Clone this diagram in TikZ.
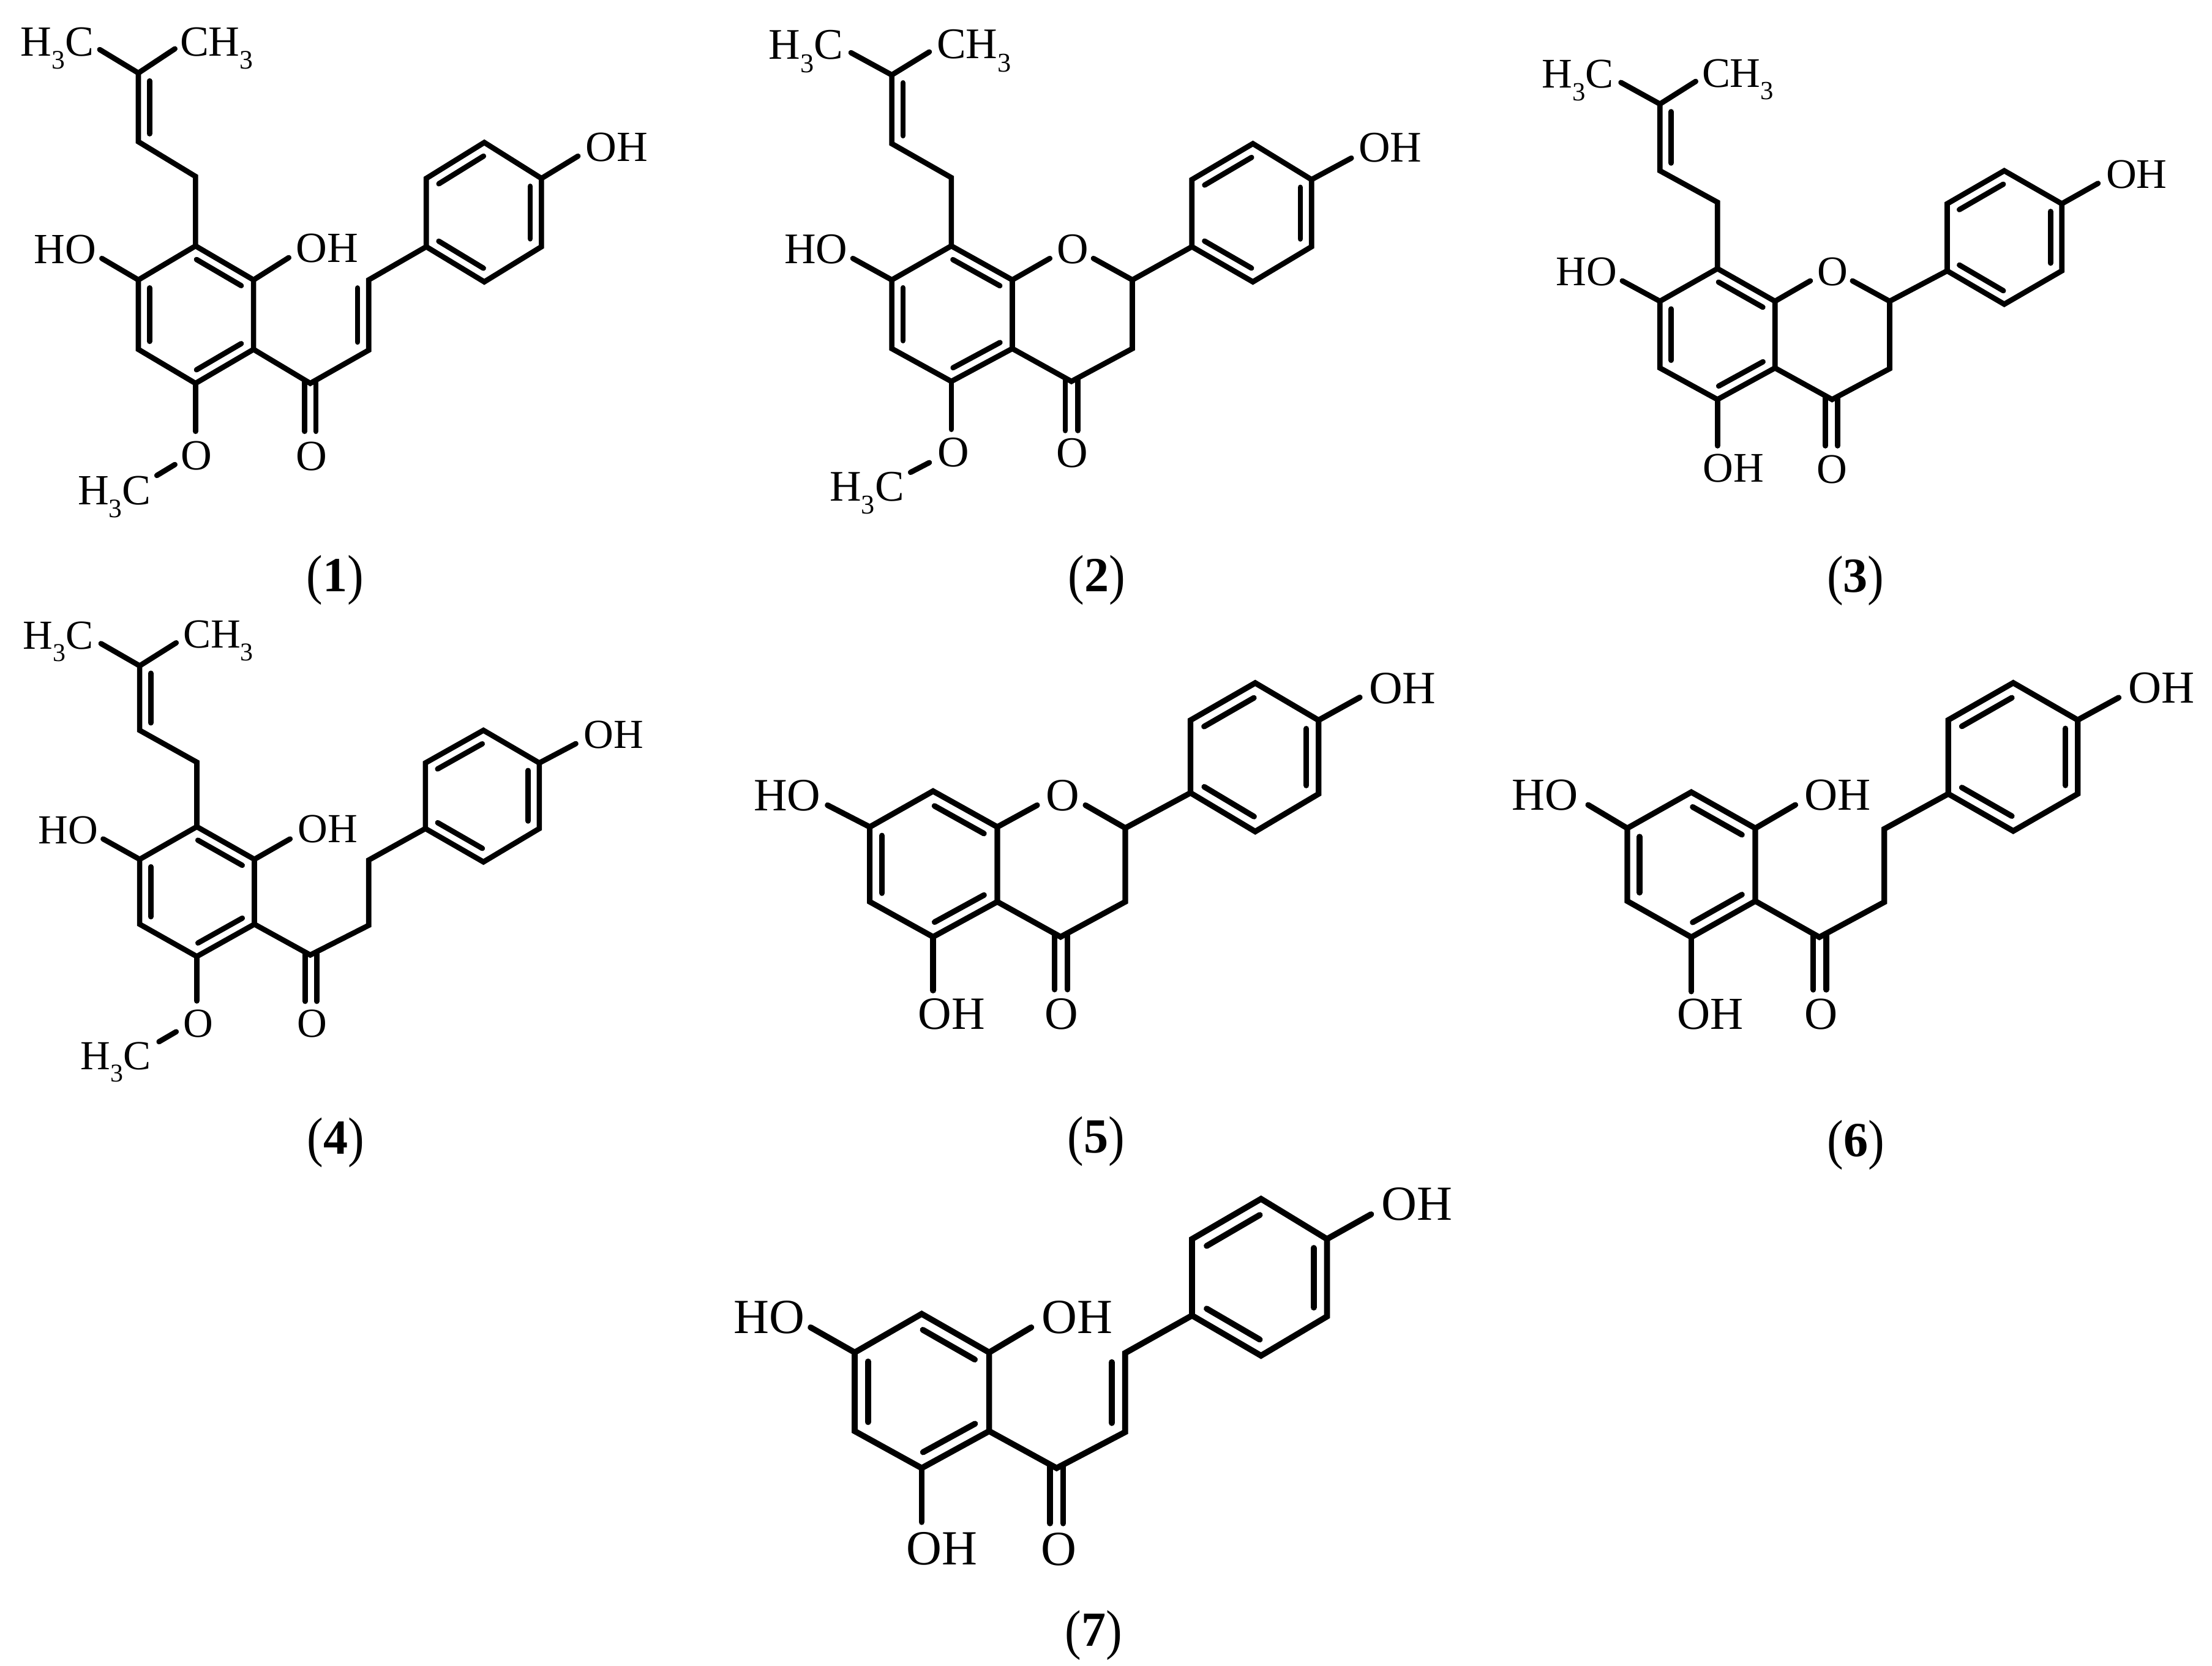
\documentclass[tikz,border=0pt]{standalone}
\usepackage{graphicx}
\usepackage{fontspec}
\setmainfont{Liberation Serif}
\usetikzlibrary{calc}
\tikzset{
  bond/.style={draw=black,line width=\bondw,line cap=round,line join=miter,miter limit=10},
  innerbond/.style={draw=black,line width=\bondw,line cap=round},
  lbl/.style={anchor=base west,inner sep=0pt,text=black},
  captxt/.style={anchor=base,inner sep=0pt,text=black,font=\fontsize{22.8}{26}\selectfont},
}
\def\bondw{0.087cm}\def\inoff{0.183cm}
\newcommand\tri{\raisebox{-0.3em}{\scalebox{0.62}{3}}}
\newcommand\cpt[1]{\raisebox{-.04em}{\scalebox{1}[1.12]{(}}\textbf{#1}\raisebox{-.04em}{\scalebox{1}[1.12]{)}}}
\newcommand\hexa[7]{\coordinate (#11) at #2;\coordinate (#12) at #3;\coordinate (#13) at #4;\coordinate (#14) at #5;\coordinate (#15) at #6;\coordinate (#16) at #7;}
\newcommand\inb[2]{\draw[innerbond] ($(#1)!.115!(#2)!\inoff!-90:(#2)$) -- ($(#2)!.115!(#1)!\inoff!90:(#1)$);}
\newcommand\rings{%
  \draw[bond] (a1)--(a2)--(a3)--(a4)--(a5)--(a6)--cycle;
  \draw[bond] (b1)--(b2)--(b3)--(b4)--(b5)--(b6)--cycle;
  \inb{a1}{a2}\inb{a3}{a4}\inb{a5}{a6}
  \inb{b2}{b1}\inb{b4}{b3}\inb{b6}{b5}
  \draw[bond] (b4)--(ohb);
  \draw[bond] (a6)--(hoa);
}
\newcommand\prenyl{%
  \draw[bond] (pl)--(p2)--(pr);
  \draw[bond] (p2)--(p3)--(p4)--(a1);
  \inb{p3}{p2}
}
\begin{document}
\begin{tikzpicture}
\useasboundingbox[fill=white] (0,0) rectangle (36.13,-27.22);

% ---------- (1)
\begin{scope}[x=0.007015cm,y=-0.006378cm,name prefix=m1-,font=\fontsize{20}{24}\selectfont]
\hexa{a}{(455,630)}{(590,717)}{(590,895)}{(455,982)}{(322,895)}{(322,717)}
\hexa{b}{(992,632)}{(1127,722)}{(1260,632)}{(1260,457)}{(1127,365)}{(992,457)}
\coordinate (p2) at (322,187);\coordinate (pl) at (232,127);\coordinate (pr) at (407,125);
\coordinate (p3) at (322,363);\coordinate (p4) at (455,452);
\coordinate (co) at (722,982);\coordinate (ca) at (858,897);\coordinate (cb) at (858,717);
\coordinate (ohb) at (1345,400);\coordinate (hoa) at (237,662);\coordinate (oha) at (672,660);
\coordinate (oe) at (455,1105);\coordinate (m1) at (407,1190);\coordinate (m2) at (365,1218);
\coordinate (c1) at (709,975);\coordinate (c2) at (735,975);\coordinate (o1) at (709,1105);\coordinate (o2) at (735,1105);
\rings\prenyl
\draw[bond] (a3)--(co)--(ca)--(cb)--(b1);
\inb{cb}{ca}
\draw[bond] (a2)--(oha); \draw[bond] (a4)--(oe); \draw[bond] (m1)--(m2);
\draw[bond] (c1)--(o1); \draw[bond] (c2)--(o2);
\node[lbl] (t1) at (47,143) {H\tri C};
\node[lbl] (t2) at (418,143) {CH\tri};
\node[lbl] (t3) at (78,675) {HO};
\node[lbl] (t4) at (688,672) {OH};
\node[lbl] (t5) at (1362,413) {OH};
\node[lbl] (t6) at (420,1203) {O};
\node[lbl] (t7) at (180,1293) {H\tri C};
\node[lbl] (t8) at (688,1205) {O};
\node[captxt] (capn) at (780,1515) {\cpt{1}};
\end{scope}

% ---------- (2)
\begin{scope}[shift={(12cm,0cm)},x=0.007653cm,y=-0.006378cm,name prefix=m2-,font=\fontsize{20.3}{24}\selectfont]
\hexa{a}{(462,630)}{(592,717)}{(592,893)}{(462,977)}{(335,893)}{(335,717)}
\hexa{b}{(975,632)}{(1105,722)}{(1230,632)}{(1230,460)}{(1105,368)}{(975,460)}
\coordinate (p2) at (335,192);\coordinate (pl) at (248,135);\coordinate (pr) at (415,133);
\coordinate (p3) at (335,368);\coordinate (p4) at (462,455);
\coordinate (co) at (718,977);\coordinate (c3) at (848,893);\coordinate (c4) at (848,717);
\coordinate (ohb) at (1315,405);\coordinate (hoa) at (252,662);
\coordinate (ol) at (672,662);\coordinate (or) at (765,662);
\coordinate (oe) at (462,1100);\coordinate (m1) at (415,1185);\coordinate (m2) at (375,1210);
\coordinate (c1) at (705,970);\coordinate (c2) at (732,970);\coordinate (o1) at (705,1103);\coordinate (o2) at (732,1103);
\rings\prenyl
\draw[bond] (a3)--(co)--(c3)--(c4)--(b1);
\draw[bond] (a2)--(ol); \draw[bond] (or)--(c4);
\draw[bond] (a4)--(oe); \draw[bond] (m1)--(m2);
\draw[bond] (c1)--(o1); \draw[bond] (c2)--(o2);
\node[lbl] (t1) at (72,152) {H\tri C};
\node[lbl] (t2) at (430,150) {CH\tri};
\node[lbl] (t3) at (105,675) {HO};
\node[lbl] (t4) at (687,675) {O};
\node[lbl] (t5) at (1330,415) {OH};
\node[lbl] (t6) at (432,1195) {O};
\node[lbl] (t7) at (202,1283) {H\tri C};
\node[lbl] (t8) at (685,1197) {O};
\node[captxt] (capn) at (772,1515) {\cpt{2}};
\end{scope}

% ---------- (3)
\begin{scope}[shift={(24.5cm,-0.5cm)},x=0.007398cm,y=-0.006059cm,name prefix=m3-,font=\fontsize{19.6}{24}\selectfont]
\hexa{a}{(480,642)}{(607,730)}{(607,910)}{(480,995)}{(353,910)}{(353,730)}
\hexa{b}{(987,648)}{(1113,738)}{(1240,648)}{(1240,467)}{(1113,378)}{(987,467)}
\coordinate (p2) at (353,198);\coordinate (pl) at (267,140);\coordinate (pr) at (432,137);
\coordinate (p3) at (353,378);\coordinate (p4) at (480,463);
\coordinate (co) at (733,995);\coordinate (c3) at (860,912);\coordinate (c4) at (860,730);
\coordinate (ohb) at (1320,412);\coordinate (hoa) at (270,675);
\coordinate (ol) at (685,675);\coordinate (or) at (778,675);
\coordinate (oe) at (480,1120);
\coordinate (c1) at (718,988);\coordinate (c2) at (745,988);\coordinate (o1) at (718,1120);\coordinate (o2) at (745,1120);
\rings\prenyl
\draw[bond] (a3)--(co)--(c3)--(c4)--(b1);
\draw[bond] (a2)--(ol); \draw[bond] (or)--(c4);
\draw[bond] (a4)--(oe);
\draw[bond] (c1)--(o1); \draw[bond] (c2)--(o2);
\node[lbl] (t1) at (92,155) {H\tri C};
\node[lbl] (t2) at (445,152) {CH\tri};
\node[lbl] (t3) at (123,687) {HO};
\node[lbl] (t4) at (700,687) {O};
\node[lbl] (t5) at (1337,425) {OH};
\node[lbl] (t6) at (447,1218) {OH};
\node[lbl] (t8) at (698,1220) {O};
\node[captxt] (capn) at (785,1515) {\cpt{3}};
\end{scope}

% ---------- (4)
\begin{scope}[shift={(0cm,-9.8cm)},x=0.007015cm,y=-0.006059cm,name prefix=m4-,font=\fontsize{19.2}{24}\selectfont]
\hexa{a}{(458,612)}{(592,700)}{(592,875)}{(458,962)}{(325,875)}{(325,700)}
\hexa{b}{(990,617)}{(1125,707)}{(1255,617)}{(1255,440)}{(1125,352)}{(990,440)}
\coordinate (p2) at (325,178);\coordinate (pl) at (235,118);\coordinate (pr) at (410,116);
\coordinate (p3) at (325,352);\coordinate (p4) at (458,438);
\coordinate (co) at (722,958);\coordinate (ca) at (858,878);\coordinate (cb) at (858,702);
\coordinate (ohb) at (1340,388);\coordinate (hoa) at (240,645);\coordinate (oha) at (675,645);
\coordinate (oe) at (458,1082);\coordinate (m1) at (410,1165);\coordinate (m2) at (370,1192);
\coordinate (c1) at (710,951);\coordinate (c2) at (737,951);\coordinate (o1) at (710,1083);\coordinate (o2) at (737,1083);
\rings\prenyl
\draw[bond] (a3)--(co)--(ca)--(cb)--(b1);
\draw[bond] (a2)--(oha); \draw[bond] (a4)--(oe); \draw[bond] (m1)--(m2);
\draw[bond] (c1)--(o1); \draw[bond] (c2)--(o2);
\node[lbl] (t1) at (53,133) {H\tri C};
\node[lbl] (t2) at (425,130) {CH\tri};
\node[lbl] (t3) at (88,658) {HO};
\node[lbl] (t4) at (692,655) {OH};
\node[lbl] (t5) at (1358,400) {OH};
\node[lbl] (t6) at (425,1180) {O};
\node[lbl] (t7) at (187,1267) {H\tri C};
\node[lbl] (t8) at (690,1180) {O};
\node[captxt] (capn) at (781,1495) {\cpt{4}};
\end{scope}

\def\bondw{0.092cm}\def\inoff{0.2cm}
% ---------- (5)
\begin{scope}[shift={(12cm,-10cm)},x=0.007653cm,y=-0.005740cm,name prefix=m5-,font=\fontsize{21.5}{26}\selectfont]
\hexa{a}{(423,510)}{(560,612)}{(560,825)}{(423,925)}{(288,825)}{(288,612)}
\hexa{b}{(972,515)}{(1110,625)}{(1245,518)}{(1245,308)}{(1110,202)}{(972,308)}
\coordinate (co) at (695,925);\coordinate (c3) at (833,825);\coordinate (c4) at (833,615);
\coordinate (ohb) at (1333,243);\coordinate (hoa) at (198,550);
\coordinate (ol) at (645,550);\coordinate (or) at (748,550);
\coordinate (oe) at (423,1078);
\coordinate (c1) at (682,917);\coordinate (c2) at (710,917);\coordinate (o1) at (682,1075);\coordinate (o2) at (710,1075);
\rings
\draw[bond] (a3)--(co)--(c3)--(c4)--(b1);
\draw[bond] (a2)--(ol); \draw[bond] (or)--(c4);
\draw[bond] (a4)--(oe);
\draw[bond] (c1)--(o1); \draw[bond] (c2)--(o2);
\node[lbl] (t3) at (40,565) {HO};
\node[lbl] (t4) at (663,565) {O};
\node[lbl] (t5) at (1352,260) {OH};
\node[lbl] (t6) at (390,1188) {OH};
\node[lbl] (t8) at (660,1188) {O};
\node[captxt] (capn) at (771,1540) {\cpt{5}};
\end{scope}

% ---------- (6)
\begin{scope}[shift={(24.3cm,-10.5cm)},x=0.007526cm,y=-0.005612cm,name prefix=m6-,font=\fontsize{21.3}{26}\selectfont]
\hexa{a}{(442,435)}{(581,540)}{(581,752)}{(442,857)}{(303,752)}{(303,540)}
\hexa{b}{(1000,440)}{(1141,548)}{(1281,440)}{(1281,225)}{(1141,117)}{(1000,225)}
\coordinate (co) at (720,857);\coordinate (ca) at (861,755);\coordinate (cb) at (861,542);
\coordinate (ohb) at (1370,160);\coordinate (hoa) at (218,472);\coordinate (oha) at (668,472);
\coordinate (oe) at (442,1015);
\coordinate (c1) at (707,849);\coordinate (c2) at (735,849);\coordinate (o1) at (707,1010);\coordinate (o2) at (735,1010);
\rings
\draw[bond] (a3)--(co)--(ca)--(cb)--(b1);
\draw[bond] (a2)--(oha); \draw[bond] (a4)--(oe);
\draw[bond] (c1)--(o1); \draw[bond] (c2)--(o2);
\node[lbl] (t3) at (52,487) {HO};
\node[lbl] (t4) at (687,487) {OH};
\node[lbl] (t5) at (1390,175) {OH};
\node[lbl] (t6) at (410,1125) {OH};
\node[lbl] (t8) at (687,1125) {O};
\node[captxt] (capn) at (799,1495) {\cpt{6}};
\end{scope}

\def\bondw{0.097cm}\def\inoff{0.217cm}
% ---------- (7)
\begin{scope}[shift={(11.5cm,-19cm)},x=0.008291cm,y=-0.005243cm,name prefix=m7-,font=\fontsize{22.8}{27}\selectfont]
\hexa{a}{(429,470)}{(562,590)}{(562,835)}{(429,950)}{(297,835)}{(297,590)}
\hexa{b}{(962,475)}{(1098,600)}{(1228,478)}{(1228,237)}{(1098,112)}{(962,237)}
\coordinate (co) at (695,950);\coordinate (ca) at (830,838);\coordinate (cb) at (830,592);
\coordinate (ohb) at (1315,160);\coordinate (hoa) at (210,512);\coordinate (oha) at (645,512);
\coordinate (oe) at (429,1118);
\coordinate (c1) at (682,940);\coordinate (c2) at (708,940);\coordinate (o1) at (682,1122);\coordinate (o2) at (708,1122);
\rings
\draw[bond] (a3)--(co)--(ca)--(cb)--(b1);
\inb{cb}{ca}
\draw[bond] (a2)--(oha); \draw[bond] (a4)--(oe);
\draw[bond] (c1)--(o1); \draw[bond] (c2)--(o2);
\node[lbl] (t3) at (58,530) {HO};
\node[lbl] (t4) at (665,530) {OH};
\node[lbl] (t5) at (1335,178) {OH};
\node[lbl] (t6) at (398,1250) {OH};
\node[lbl] (t8) at (663,1252) {O};
\node[captxt] (capn) at (768,1505) {\cpt{7}};
\end{scope}
\end{tikzpicture}
\end{document}
